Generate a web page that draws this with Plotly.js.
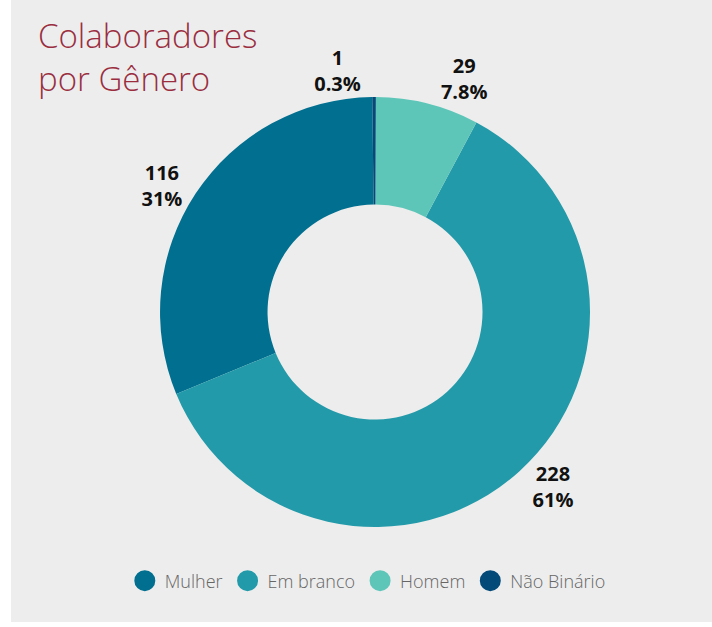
<!DOCTYPE html>
<html>
<head>
<meta charset="utf-8">
<script src="https://cdn.plot.ly/plotly-3.0.1.min.js"></script>
<style>
  html, body { margin: 0; padding: 0; background: #ffffff; }
  #chart { position: absolute; left: 11px; top: 0px; width: 701px; height: 622px; }
</style>
</head>
<body>
<div id="chart"></div>
<script>
// Data
const labels = ["Mulher", "Em branco", "Homem", "Não Binário"];
const values = [116, 228, 29, 1];
const percentLabels = ["31%", "61%", "7.8%", "0.3%"];
const colors = ["#016F8F", "#239AA9", "#5EC6B8", "#034A79"];
const chartTitle = "Colaboradores<br>por Gênero";

const pieTrace = {
  type: "pie",
  labels: labels,
  values: values,
  text: percentLabels,
  texttemplate: "%{value}<br>%{text}",
  textposition: "outside",
  outsidetextfont: { family: "Open Sans", size: 20, color: "#111111", weight: 700 },
  hole: 0.5,
  sort: false,
  direction: "counterclockwise",
  rotation: -112.4,
  marker: { colors: colors, line: { width: 0 } },
  showlegend: false,
  hoverinfo: "label+value+percent",
  domain: { x: [0.2126, 0.826], y: [0.1527, 0.844] }
};

// Legend entries (circle symbols) built from the same arrays
const legendTraces = labels.map((name, i) => ({
  type: "scatter",
  mode: "markers",
  x: [null],
  y: [null],
  name: name,
  marker: { symbol: "circle", size: 16, color: colors[i], line: { color: colors[i], width: 5 } },
  showlegend: true,
  hoverinfo: "skip"
}));

const layout = {
  width: 701,
  height: 622,
  paper_bgcolor: "#EDEDED",
  plot_bgcolor: "#EDEDED",
  margin: { l: 0, r: 0, t: 0, b: 0 },
  title: {
    text: chartTitle,
    font: { family: "Open Sans", size: 33, color: "#9A2E3F", weight: 300 },
    x: 27 / 701,
    xanchor: "left",
    xref: "paper",
    y: 1 - 48 / 622,
    yanchor: "top",
    yref: "paper"
  },
  xaxis: { visible: false },
  yaxis: { visible: false },
  showlegend: true,
  legend: {
    orientation: "h",
    x: 0.509,
    xanchor: "center",
    y: 0.066,
    yanchor: "middle",
    font: { family: "Open Sans", size: 18, color: "#666666", weight: 300 },
    itemwidth: 30,
    bgcolor: "rgba(0,0,0,0)",
    itemclick: false,
    itemdoubleclick: false
  }
};

Plotly.newPlot("chart", [pieTrace].concat(legendTraces), layout, { displayModeBar: false });
</script>
</body>
</html>
